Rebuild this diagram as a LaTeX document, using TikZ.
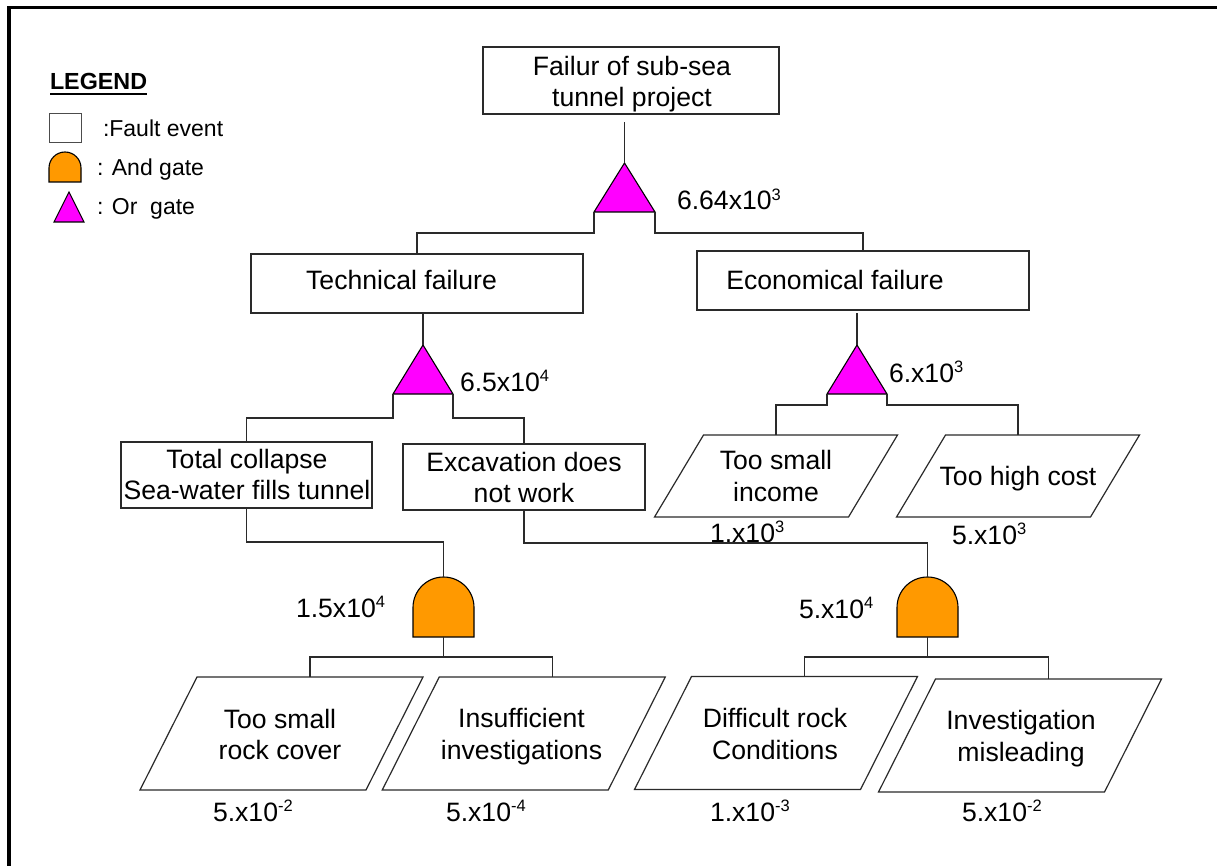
\documentclass[tikz,border=0pt]{standalone}
\usepackage{fontspec}
\setmainfont{Liberation Sans}
\usetikzlibrary{calc}
\definecolor{orfill}{HTML}{FF00FF}
\definecolor{andfill}{HTML}{FF9900}
\definecolor{linec}{HTML}{2A2A2A}
\newcommand\mstrut{\rule[-6.5pt]{0pt}{27pt}}
\newcommand\sups[1]{\raisebox{9.5pt}{\fontsize{16.5}{16.5}\selectfont #1}}
\begin{document}
\begin{tikzpicture}[x=1pt,y=-1pt,
  every node/.style={inner sep=0pt, outer sep=0pt},
  txt/.style={font=\fontsize{26.6}{31.5}\selectfont, align=center},
  numl/.style={font=\fontsize{26.6}{31.5}\selectfont, anchor=base west},
  legt/.style={font=\fontsize{23}{27}\selectfont, anchor=base west},
  evbox/.style 2 args={draw=linec, line width=1.2pt, minimum width=#1pt, minimum height=#2pt},
  conn/.style={draw=linec, line width=1.2pt},
  orgate/.style 2 args={minimum width=#1pt, minimum height=#2pt,
    append after command={\pgfextra{\filldraw[fill=orfill, draw=black, line width=1.1pt, line join=miter]
      (\tikzlastnode.south west) -- (\tikzlastnode.south east) -- (\tikzlastnode.north) -- cycle;}}},
  andgate/.style 2 args={minimum width=#1pt, minimum height=#2pt,
    append after command={\pgfextra{\filldraw[fill=andfill, draw=black, line width=1.1pt]
      (\tikzlastnode.south west) -- (\tikzlastnode.south east) -- ([yshift={-0.5*#1pt}]\tikzlastnode.north east)
      arc[start angle=0, end angle=180, radius={0.5*#1pt}] -- cycle;}}},
  para/.style n args={3}{minimum width=#1pt, minimum height=#2pt,
    append after command={\pgfextra{\draw[draw=linec, line width=1.2pt, line join=miter]
      ([xshift={0.5*#3pt}]\tikzlastnode.north west) -- ([xshift={0.5*#3pt}]\tikzlastnode.north east)
      -- ([xshift={-0.5*#3pt}]\tikzlastnode.south east) -- ([xshift={-0.5*#3pt}]\tikzlastnode.south west) -- cycle;}}}
]
\useasboundingbox (0,0) rectangle (1217,866);
\fill[white] (0,0) rectangle (1217,866);
% frame
\draw[line width=3.5pt, line join=miter] (9,870) -- (9,7.7) -- (1222,7.7);

% legend
\node[legt, font=\fontsize{23.3}{27}\selectfont\bfseries] (legend) at (50,90) {LEGEND};
\draw[line width=2pt] ([yshift=-4pt]legend.base west) -- ([yshift=-4pt]legend.base east);
\node[draw=black!70, line width=1pt, minimum width=32pt, minimum height=29pt] (lbox) at (65,128.5) {};
\node[legt] (lboxt) at (103,137) {:Fault event};
\node[andgate={32}{30}] (land) at (65,167) {};
\node[legt] (landt) at (97,176) {: And gate};
\node[orgate={30}{30}] (lor) at (69,207) {};
\node[legt] (lort) at (97,215) {: Or~ gate};

% top event
\node[evbox={296}{67}] (top) at (631,80.5) {};
\node[txt] (ttop) at (632,84) {\mstrut Failur of sub-sea\\\mstrut tunnel project};
\node[orgate={61}{49}] (g1) at (624.5,187.5) {};
\node[numl] (l1) at (677,210) {6.64x10\sups{3}};

% second level
\node[evbox={332}{59}] (tech) at (417,283.5) {};
\node[txt, anchor=base] (ttech) at (401.5,289.5) {Technical failure};
\node[evbox={332}{59}] (econ) at (863,280.5) {};
\node[txt, anchor=base] (tecon) at (835,289.5) {Economical failure};

\node[orgate={60}{49}] (g2) at (423,369.5) {};
\node[numl] (l2) at (460,391) {6.5x10\sups{4}};
\node[orgate={60}{49}] (g3) at (857,369.5) {};
\node[numl] (l3) at (889,382) {6.x10\sups{3}};

% third level
\node[evbox={251}{66}] (total) at (246.5,475) {};
\node[txt] (ttotal) at (247,477) {\mstrut Total collapse\\\mstrut Sea-water fills tunnel};
\node[evbox={242}{66}] (excav) at (524,477) {};
\node[txt] (texcav) at (524,480) {\mstrut Excavation does\\\mstrut not work};

\node[para={194}{82}{49}] (e1) at (776,476) {};
\node[txt] (te1) at (776,478.5) {\mstrut Too small\\\mstrut income};
\node[para={194}{82}{49}] (e2) at (1018,476) {};
\node[txt, anchor=base] (te2) at (1018,485) {Too high cost};
\node[numl] (l4) at (710,542) {1.x10\sups{3}};
\node[numl] (l5) at (952,544) {5.x10\sups{3}};

% and gates
\node[andgate={61}{60}] (a1) at (443.5,607) {};
\node[numl] (l6) at (296,617) {1.5x10\sups{4}};
\node[andgate={61}{60}] (a2) at (927.5,607) {};
\node[numl] (l7) at (799,618) {5.x10\sups{4}};

% basic events
\node[para={226}{113}{57}] (p1) at (281.5,733.5) {};
\node[txt] (tp1) at (280,737) {\mstrut Too small\\\mstrut rock cover};
\node[para={226}{113}{57}] (p2) at (523.75,733.5) {};
\node[txt] (tp2) at (521.5,736.5) {\mstrut Insufficient\\\mstrut investigations};
\node[para={226}{113}{57}] (p3) at (776,733) {};
\node[txt] (tp3) at (775,736.5) {\mstrut Difficult rock\\\mstrut Conditions};
\node[para={226}{113}{57}] (p4) at (1020,735.5) {};
\node[txt] (tp4) at (1021,738.5) {\mstrut Investigation\\\mstrut misleading};

\node[numl] (l8) at (213,821) {5.x10\sups{-2}};
\node[numl] (l9) at (446,821) {5.x10\sups{-4}};
\node[numl] (l10) at (710,821) {1.x10\sups{-3}};
\node[numl] (l11) at (962,821) {5.x10\sups{-2}};

% connectors
\draw[conn, shorten >=8pt] (g1.north) -- (g1.north |- top.south);
\draw[conn] (g1.south west) -- ++(0,21) -| (tech.north);
\draw[conn] (g1.south east) -- ++(0,21) -| (econ.north);
\draw[conn] (g2.north) -- (g2.north |- tech.south);
\draw[conn] (g2.south west) -- ++(0,24) -| (total.north);
\draw[conn] (g2.south east) -- ++(0,24) -| (excav.north);
\draw[conn, shorten >=3pt] (g3.north) -- (g3.north |- econ.south);
\draw[conn] (g3.south west) -- ++(0,11) -| (e1.north);
\draw[conn] (g3.south east) -- ++(0,11) -| (e2.north);
\draw[conn] (total.south) -- ++(0,34) -| (a1.north);
\draw[conn] (excav.south) -- ++(0,33) -| (a2.north);
\draw[conn] (a1.south) -- ++(0,20) -| ([xshift=28.5pt]p1.north);
\draw[conn] (a1.south) -- ++(0,20) -| ([xshift=28.5pt]p2.north);
\draw[conn] (a2.south) -- ++(0,20) -| ([xshift=28.5pt]p3.north);
\draw[conn] (a2.south) -- ++(0,20) -| ([xshift=28.5pt]p4.north);
\end{tikzpicture}
\end{document}
